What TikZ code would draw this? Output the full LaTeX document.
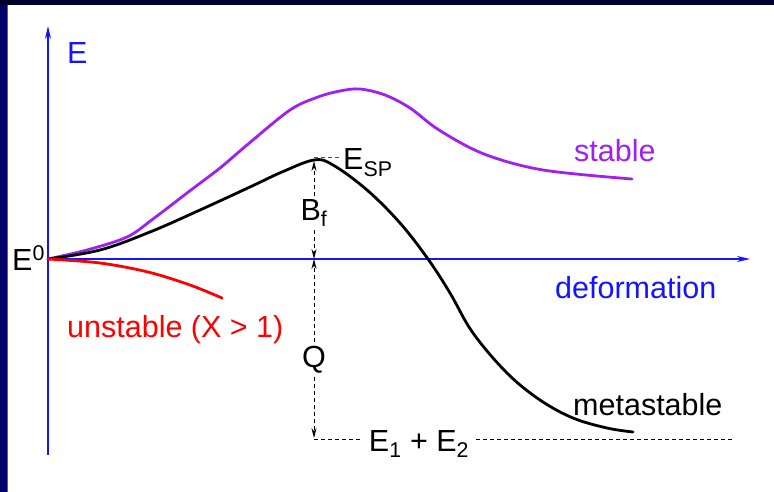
\documentclass[tikz,border=0pt]{standalone}
\usepackage{fontspec}
\setmainfont{Liberation Sans}
\usetikzlibrary{arrows.meta}
\definecolor{axisblue}{RGB}{20,20,255}
\definecolor{stablepurple}{RGB}{160,32,240}
\definecolor{navytop}{RGB}{0,0,48}
\definecolor{navyleft}{RGB}{0,0,105}
\tikzset{
  lbl/.style={inner sep=0pt,font=\fontsize{30.5}{36}\selectfont},
  axis/.style={axisblue,line width=1.8pt,-{Stealth[length=13pt,width=6pt]}},
  curve/.style={line width=2.8pt,line join=round,line cap=round},
  dim/.style={black,line width=0.8pt,dash pattern=on 4pt off 3pt},
  dimarrow/.style={dim,-{Stealth[length=10pt,width=5pt]}},
}
\begin{document}
\begin{tikzpicture}[x=1pt,y=-1pt]
\useasboundingbox (0,0) rectangle (774,492);
\fill[white] (0,0) rectangle (774,492);
\fill[navyleft] (0,0) rectangle (8,492);
\fill[navytop] (0,0) rectangle (774,5);
\fill[blue!30!gray] (7,5) rectangle (8.2,492);

% coordinates
\coordinate (O) at (48,259);
\coordinate (ytop) at (48,26);
\coordinate (ybot) at (48,455);
\coordinate (xend) at (750,259);
\coordinate (peak) at (314,161);
\coordinate (axQ) at (314,259);
\coordinate (bottom) at (314,438);
\coordinate (dashend) at (732,439);
\coordinate (spend) at (341,157);
\coordinate (spstart) at (314,157);

% axes
\draw[axis] (ybot) -- (ytop);
\draw[axis] (O) -- (xend);

% stable (purple)
\draw[curve,stablepurple] plot[smooth,tension=0.55] coordinates {
 (48,259) (87,250) (127,237) (153,219) (187,193) (220,168) (247,145) (290,110) (318,97)
 (340,91) (360,89) (385,95) (410,108) (439,130) (484,154) (543,170) (632,179)};

% metastable (black)
\draw[curve,black] plot[smooth,tension=0.6] coordinates {
 (48,259) (100,250) (150,232) (200,210) (250,187) (282,172) (314,160)
 (333,165) (367,190) (400,223) (428,259) (450,293) (473,333)
 (507,373) (540,400) (573,418) (607,428) (633,432)};

% unstable (red)
\draw[curve,red] plot[smooth,tension=0.55] coordinates {
 (48,259) (100,263) (148,272) (190,285) (222,298)};

% labels
\node[lbl,text=axisblue,anchor=base west] (E) at (67,64) {E};
\node[lbl,anchor=base west] (E0) at (12,270) {E\textsuperscript{0}};
\node[lbl,anchor=base west] (ESP) at (343,170) {E\textsubscript{SP}};
\node[lbl,anchor=base,inner ysep=3pt] (Bf) at (314,220) {B\textsubscript{f}};
\node[lbl,anchor=base,inner ysep=4pt] (Q) at (314,367) {Q};
\node[lbl,anchor=base,inner xsep=7pt] (E12) at (419,451) {E\textsubscript{1} + E\textsubscript{2}};
\node[lbl,text=stablepurple,anchor=base west] (st) at (574,162) {stable};
\node[lbl,text=axisblue,anchor=base west] (def) at (555,298) {deformation};
\node[lbl,text=red,anchor=base west] (unst) at (67,337) {unstable (X > 1)};
\node[lbl,anchor=base west] (meta) at (573,415) {metastable};

% dimension lines
\draw[dim,black!70] (spstart) -- (spend);
\draw[dimarrow] (Bf.north) -- (peak);
\draw[dimarrow] (Bf.south) -- (axQ);
\draw[dimarrow] (Q.north) -- (axQ);
\draw[dimarrow] (Q.south) -- (bottom);
\draw[dim] (bottom |- dashend) -- (E12.west |- dashend);
\draw[dim] (E12.east |- dashend) -- (dashend);
\end{tikzpicture}
\end{document}
